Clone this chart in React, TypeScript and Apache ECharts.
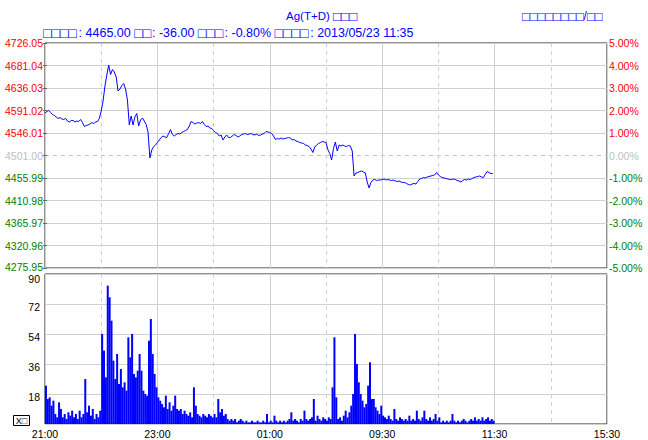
import React, { useEffect, useRef } from 'react';
import * as echarts from 'echarts';

// ---- data ----
const timeLabels = ['21:00', '23:00', '01:00', '09:30', '11:30', '15:30'];
const priceMin = 4275.95;
const priceMax = 4726.05;
const priceStep = 45.01;
const prevSettle = 4501;
const pctMin = -5;
const pctMax = 5;
const volMax = 90;
const volStep = 18;
const minutesPerPoint = 2;
const sessionMinutes = 600;

const titleText = 'Ag(T+D) □□□';
const infoText = '□□□□: 4465.00 □□: -36.00 □□□: -0.80% □□□□: 2013/05/23 11:35';
const sourceText = '□□□□□□□□/□□';
const buttonText = 'X□';

const prices = [
  4586, 4589, 4591, 4587, 4583, 4581, 4578, 4575, 4577, 4574,
  4573, 4575, 4570, 4568, 4571, 4571, 4568, 4570, 4569, 4573,
  4567, 4559, 4561, 4562, 4564, 4567, 4565, 4568, 4569, 4575,
  4590, 4610, 4640, 4662, 4682, 4663, 4673, 4668, 4658, 4630,
  4634, 4641, 4645, 4634, 4612, 4562, 4580, 4562, 4578, 4585,
  4560, 4572, 4576, 4570, 4563, 4548, 4496, 4512, 4519, 4522,
  4527, 4532, 4537, 4540, 4538, 4537, 4545, 4553, 4543, 4540,
  4543, 4545, 4544, 4547, 4549, 4551, 4553, 4560, 4569, 4567,
  4564, 4566, 4567, 4565, 4569, 4563, 4559, 4560, 4556, 4555,
  4551, 4547, 4545, 4540, 4542, 4532, 4538, 4542, 4537, 4537,
  4540, 4543, 4541, 4538, 4540, 4543, 4544, 4545, 4543, 4544,
  4545, 4543, 4542, 4544, 4541, 4542, 4544, 4545, 4549, 4548,
  4547, 4545, 4540, 4533, 4535, 4534, 4536, 4534, 4535, 4536,
  4537, 4536, 4532, 4533, 4530, 4529, 4527, 4526, 4525, 4522,
  4521, 4519, 4514, 4507, 4518, 4522, 4525, 4527, 4529, 4528,
  4527, 4513, 4505, 4492, 4515, 4528, 4510, 4522, 4520, 4522,
  4520, 4519, 4521, 4520, 4510, 4460, 4466, 4467, 4469, 4470,
  4468, 4466, 4448, 4436, 4447, 4452, 4453, 4451, 4452, 4452,
  4453, 4454, 4452, 4453, 4452, 4451, 4452, 4450, 4449, 4450,
  4448, 4447, 4447, 4445, 4443, 4442, 4444, 4445, 4444, 4449,
  4454, 4455, 4457, 4456, 4458, 4459, 4460, 4461, 4462, 4467,
  4462, 4459, 4457, 4456, 4455, 4454, 4453, 4453, 4454, 4453,
  4451, 4450, 4448, 4451, 4453, 4452, 4454, 4453, 4455, 4457,
  4458, 4459, 4460, 4458, 4457, 4463, 4469, 4467, 4465, 4465,
];

const volumes = [
  23, 15, 16, 11, 14, 6, 4, 13, 9, 4,
  6, 3, 7, 5, 8, 4, 6, 3, 8, 4,
  6, 27, 7, 11, 5, 9, 3, 6, 4, 8,
  54, 44, 28, 83, 76, 62, 38, 27, 42, 24,
  33, 22, 25, 20, 52, 40, 54, 30, 28, 32,
  42, 32, 20, 18, 17, 50, 63, 42, 30, 22,
  16, 14, 12, 10, 17, 9, 13, 8, 11, 17,
  9, 8, 9, 6, 8, 6, 5, 7, 4, 22,
  11, 6, 5, 4, 6, 5, 4, 6, 5, 4,
  6, 4, 15, 7, 9, 5, 6, 3, 2, 3,
  2, 3, 1, 2, 3, 2, 1, 2, 1, 1,
  2, 1, 1, 2, 1, 1, 2, 1, 6, 1,
  2, 1, 5, 2, 1, 2, 1, 2, 1, 2,
  3, 7, 2, 3, 2, 1, 3, 2, 8, 3,
  2, 3, 4, 15, 2, 5, 3, 2, 4, 3,
  2, 4, 3, 22, 52, 16, 3, 4, 2, 5,
  8, 4, 7, 11, 18, 54, 36, 25, 18, 14,
  10, 12, 23, 37, 15, 15, 10, 8, 6, 11,
  5, 4, 3, 5, 3, 2, 9, 3, 2, 4,
  3, 2, 3, 2, 5, 2, 3, 2, 8, 3,
  2, 4, 8, 3, 2, 4, 2, 3, 6, 2,
  4, 1, 2, 1, 2, 1, 2, 6, 2, 1,
  2, 1, 2, 3, 2, 1, 2, 3, 2, 4,
  2, 3, 2, 4, 2, 3, 4, 2, 3, 2,
];

// ---- styles ----
const FONT = '"Liberation Sans", Arial, sans-serif';
const BLUE = '#0000ff';
const RED = '#ff0000';
const GREEN = '#008000';
const ZERO_GRAY = '#c0c0c0';
const GRID_GRAY = '#d0d0d0';
const CLEAR = 'rgba(0,0,0,0)';
const LABEL_SIZE = 10.5;

// boxes (missing glyphs) rendered as fixed-pitch rich tokens
function boxText(s: string, pitch: number, fontSize: number, boxSize: number) {
  const rich: Record<string, any> = {};
  const text = s.replace(/□+/g, (m) => {
    const key = 'b' + m.length;
    rich[key] = { width: m.length * pitch, fontSize: boxSize, fill: BLUE, fontFamily: FONT };
    return `{${key}|${m}}`;
  });
  return {
    text,
    rich,
    fill: BLUE,
    fontFamily: FONT,
    fontSize,
    verticalAlign: 'middle',
  };
}

function signColor(v: number, base: number) {
  if (v > base + 1e-6) return RED;
  if (v < base - 1e-6) return GREEN;
  return ZERO_GRAY;
}

export default function App() {
  const ref = useRef<HTMLDivElement>(null);

  useEffect(() => {
    if (!ref.current) return;
    const chart = echarts.init(ref.current, undefined, { renderer: 'svg' });

    const priceTickCount = Math.round((priceMax - priceMin) / priceStep) + 1;
    const midIndex = Math.round((prevSettle - priceMin) / priceStep);
    const solidColors = Array.from({ length: priceTickCount }, (_, i) => (i === midIndex ? CLEAR : GRID_GRAY));
    const dashedColors = Array.from({ length: priceTickCount }, (_, i) => (i === midIndex ? ZERO_GRAY : CLEAR));

    const xSolid = (gridIndex: number, labels: boolean) => ({
      gridIndex,
      type: 'value',
      min: 0,
      max: sessionMinutes,
      interval: 120,
      position: 'bottom',
      axisLine: { show: false },
      axisTick: { show: false },
      axisLabel: labels
        ? {
            show: true,
            showMinLabel: true,
            showMaxLabel: true,
            margin: 4,
            color: '#000',
            fontFamily: FONT,
            fontSize: LABEL_SIZE,
            formatter: (v: number) => timeLabels[Math.round(v / 120)] ?? '',
          }
        : { show: false },
      splitLine: { show: true, lineStyle: { color: GRID_GRAY, width: 1 } },
    });
    const xDashed = (gridIndex: number) => ({
      gridIndex,
      type: 'value',
      min: 0,
      max: sessionMinutes,
      interval: 60,
      position: 'top',
      axisLine: { show: false },
      axisTick: { show: false },
      axisLabel: { show: false },
      splitLine: { show: true, lineStyle: { color: [CLEAR, GRID_GRAY], width: 1, type: [4, 4] } },
    });

    const option: any = {
      animation: false,
      backgroundColor: '#ffffff',
      grid: [
        { left: 45, top: 43, width: 562, height: 225, show: true, borderColor: '#222', borderWidth: 1, backgroundColor: CLEAR },
        { left: 45, top: 274, width: 562, height: 150, show: true, borderColor: '#222', borderWidth: 1, backgroundColor: CLEAR },
      ],
      xAxis: [xSolid(0, false), xDashed(0), xSolid(1, true), xDashed(1)],
      yAxis: [
        {
          gridIndex: 0,
          type: 'value',
          position: 'left',
          min: priceMin,
          max: priceMax,
          interval: priceStep,
          axisLine: { show: false },
          axisTick: { show: true, length: 2, lineStyle: { color: '#666' } },
          axisLabel: {
            margin: 2,
            fontFamily: FONT,
            fontSize: LABEL_SIZE,
            lineHeight: 9,
            formatter: (v: number) => {
              const t = Number(v).toFixed(2);
              return Math.abs(v - priceMin) < 1e-6 ? `{lo|${t}}` : t;
            },
            color: (v: any) => signColor(parseFloat(String(v).replace(/[{}a-z|]/g, '')), prevSettle),
            rich: { lo: { padding: [0, 0, 3, 0], fontFamily: FONT, fontSize: LABEL_SIZE, lineHeight: 9 } },
          },
          splitLine: { show: true, lineStyle: { color: solidColors, width: 1 } },
        },
        {
          gridIndex: 0,
          type: 'value',
          position: 'right',
          min: pctMin,
          max: pctMax,
          interval: 1,
          axisLine: { show: false },
          axisTick: { show: true, length: 2, lineStyle: { color: '#666' } },
          axisLabel: {
            margin: 2,
            fontFamily: FONT,
            fontSize: LABEL_SIZE,
            lineHeight: 9,
            formatter: (v: number) => Number(v).toFixed(2) + '%',
            color: (v: any) => signColor(parseFloat(v), 0),
          },
          splitLine: { show: true, lineStyle: { color: dashedColors, width: 1, type: [4, 4] } },
        },
        {
          gridIndex: 1,
          type: 'value',
          position: 'left',
          min: 0,
          max: volMax,
          interval: volStep,
          axisLine: { show: false },
          axisTick: { show: false },
          axisLabel: {
            showMinLabel: false,
            margin: 5,
            color: '#000',
            fontFamily: FONT,
            fontSize: LABEL_SIZE,
            verticalAlign: 'top',
            lineHeight: 6,
            formatter: (v: number) => (v === volMax ? `{hi|${v}}` : String(v)),
            rich: { hi: { padding: [3, 0, 0, 0], fontFamily: FONT, fontSize: LABEL_SIZE, lineHeight: 6, color: '#000' } },
          },
          splitLine: { show: true, lineStyle: { color: GRID_GRAY, width: 1 } },
        },
      ],
      series: [
        {
          type: 'line',
          xAxisIndex: 0,
          yAxisIndex: 0,
          showSymbol: false,
          symbol: 'none',
          lineStyle: { color: BLUE, width: 1 },
          data: prices.map((p, i) => [i * minutesPerPoint, p]),
          z: 5,
        },
        {
          type: 'bar',
          xAxisIndex: 2,
          yAxisIndex: 2,
          barWidth: 2,
          itemStyle: { color: BLUE },
          data: volumes.map((v, i) => [i * minutesPerPoint + minutesPerPoint / 2, v]),
          z: 5,
        },
      ],
      graphic: [
        { type: 'text', x: 286, y: 16, style: boxText(titleText, 9, 11.5, 13.5) },
        { type: 'text', x: 522, y: 16, style: boxText(sourceText, 7.7, 12, 12.8) },
        { type: 'text', x: 43, y: 33, style: boxText(infoText, 8.9, 12.5, 14) },
        {
          type: 'rect',
          shape: { x: 13.5, y: 415.5, width: 16, height: 10 },
          style: { fill: '#ffffff', stroke: '#000000', lineWidth: 1 },
        },
        {
          type: 'text',
          x: 21.5,
          y: 421,
          style: {
            text: buttonText,
            fill: '#000000',
            fontFamily: FONT,
            fontSize: 9,
            align: 'center',
            verticalAlign: 'middle',
          },
        },
      ],
    };

    chart.setOption(option);
    return () => chart.dispose();
  }, []);

  return <div ref={ref} style={{ width: 648, height: 440, position: 'absolute', left: 0, top: 0 }} />;
}
